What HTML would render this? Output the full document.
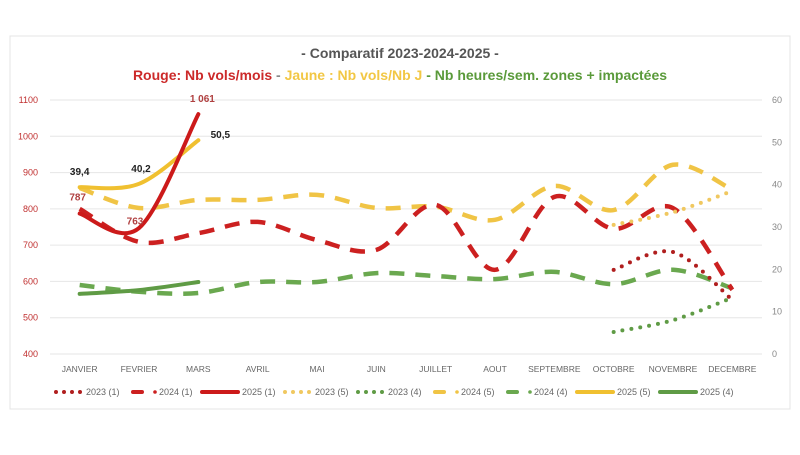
<!DOCTYPE html>
<html><head><meta charset="utf-8"><style>
body{margin:0;background:#fff;width:800px;height:450px;overflow:hidden;font-family:"Liberation Sans",sans-serif}
svg text{font-family:"Liberation Sans",sans-serif}
</style></head><body>
<svg id="chart" width="800" height="450">
<rect x="10" y="36" width="780" height="373" fill="#fff" stroke="#e4e4e4"/>
<text x="400" y="58" text-anchor="middle" font-size="14" font-weight="bold" fill="#555">- Comparatif 2023-2024-2025 -</text>
<text x="400" y="80" text-anchor="middle" font-size="14" font-weight="bold"><tspan fill="#cc2a2a">Rouge: Nb vols/mois</tspan><tspan fill="#888"> - </tspan><tspan fill="#f2c744">Jaune : Nb vols/Nb J</tspan><tspan fill="#5a9a3a"> - Nb heures/sem. zones + impactées</tspan></text>
<g id="grid"></g><g id="series"></g><g id="labels"></g><g id="legend"></g>
</svg>
<script>
const months=["JANVIER","FEVRIER","MARS","AVRIL","MAI","JUIN","JUILLET","AOUT","SEPTEMBRE","OCTOBRE","NOVEMBRE","DECEMBRE"];
const leftTicks=[400,500,600,700,800,900,1000,1100];
const rightTicks=[0,10,20,30,40,50,60];
const r2023=[null,null,null,null,null,null,null,null,null,632,681,549];
const r2024=[800,709,733,764,714,687,811,632,833,745,802,577];
const r2025=[787,747,1061];
const y2023=[null,null,null,null,null,null,null,null,null,30.5,33.5,38.5];
const y2024=[39.2,34.5,36.4,36.4,37.6,34.5,34.8,31.7,39.7,34,44.7,38.8];
const y2025=[39.4,40.2,50.5];
const g2023=[null,null,null,null,null,null,null,null,null,5.2,8,13.3];
const g2024=[16.3,14.7,14.4,17,17,19.1,18.4,17.7,19.4,16.5,19.9,15.5];
const g2025=[14.2,15.1,17];
const NS="http://www.w3.org/2000/svg";
const X0=50,X1=762,YT=100,YB=354;
const xs=i=>X0+(X1-X0)/12*(i+0.5);
const yl=v=>YB-(v-400)/700*(YB-YT);
const yr=v=>YB-v/60*(YB-YT);
function mk(tag,attrs,parent){const e=document.createElementNS(NS,tag);for(const k in attrs)e.setAttribute(k,attrs[k]);parent.appendChild(e);return e;}
const grid=document.getElementById('grid');
leftTicks.forEach(t=>{
 const l=mk('line',{x1:X0,x2:X1,y1:yl(t),y2:yl(t),stroke:'#e6e6e6'},grid);
 
 
 const tx=mk('text',{x:38,y:yl(t)+3,'text-anchor':'end','font-size':'9',fill:'#c03030'},grid);tx.textContent=t;
 
 
});
rightTicks.forEach(t=>{
 const tx=mk('text',{x:772,y:yr(t)+3,'font-size':'9',fill:'#888'},grid);tx.textContent=t;
 
 
});
months.forEach((m,i)=>{
 const tx=mk('text',{x:xs(i),y:372,'text-anchor':'middle','font-size':'8.5',fill:'#666'},grid);tx.textContent=m;
 
 
});
function pathFor(vals,sc){
 const pts=[];vals.forEach((v,i)=>{if(v!=null)pts.push([xs(i),sc(v)]);});
 let d='M'+pts[0][0]+','+pts[0][1];
 for(let i=0;i<pts.length-1;i++){
  const p0=pts[i-1]||pts[i],p1=pts[i],p2=pts[i+1],p3=pts[i+2]||p2;
  const c1=[p1[0]+(p2[0]-p0[0])/6,p1[1]+(p2[1]-p0[1])/6];
  const c2=[p2[0]-(p3[0]-p1[0])/6,p2[1]-(p3[1]-p1[1])/6];
  d+=' C'+c1+' '+c2+' '+p2;
 }
 return d;
}
const S=document.getElementById('series');
const series=[
 ['series-2024-4',g2024,yr,'#6aa84f','dash'],
 ['series-2024-5',y2024,yr,'#f0c445','dash'],
 ['series-2024-1',r2024,yl,'#cc2020','dash'],
 ['series-2023-4',g2023,yr,'#5f9b45','dot'],
 ['series-2023-5',y2023,yr,'#f0c860','dot'],
 ['series-2023-1',r2023,yl,'#b01e1e','dot'],
 ['series-2025-4',g2025,yr,'#5f9b45','solid'],
 ['series-2025-5',y2025,yr,'#f0c030','solid'],
 ['series-2025-1',r2025,yl,'#cc1a1a','solid']];
series.forEach(s=>{
 const a={d:pathFor(s[1],s[2]),fill:'none',stroke:s[3],'stroke-linecap':'round'};
 if(s[4]=='dash'){a['stroke-width']=4.5;a['stroke-dasharray']='15 11';a['stroke-linecap']='butt';}
 else if(s[4]=='dot'){a['stroke-width']=4;a['stroke-dasharray']='0 9';}
 else a['stroke-width']=4;
 const p=mk('path',a,S);
 
 
});
const L=document.getElementById('labels');
function lab(t,x,y,c){const e=mk('text',{x:x,y:y,'text-anchor':'middle','font-size':'10','font-weight':'bold',fill:c},L);e.textContent=t;
 
 }
lab('39,4',xs(0),yr(y2025[0])-12,'#222');
lab('40,2',xs(1)+2,yr(y2025[1])-12,'#222');
lab('50,5',xs(2)+22,yr(y2025[2])-2,'#222');
lab(String(r2025[0]),xs(0)-2,yl(r2025[0])-13,'#b04040');
lab('763',xs(1)-4,yl(763)+2,'#b04040');
lab('1 061',xs(2)+4,yl(r2025[2])-12,'#b04040');
const G=document.getElementById('legend');
const leg=[['2023 (1)','#b01e1e','dot'],['2024 (1)','#cc2020','dash'],['2025 (1)','#cc1a1a','solid'],['2023 (5)','#f0c860','dot'],['2023 (4)','#5f9b45','dot'],['2024 (5)','#f0c445','dash'],['2024 (4)','#6aa84f','dash'],['2025 (5)','#f0c030','solid'],['2025 (4)','#5f9b45','solid']];
let lx=56;
leg.forEach(e=>{
 const g=mk('g',{},G);
 
 
 const w=e[2]=='solid'?36:26;
 const a={x1:lx,x2:lx+w,y1:392,y2:392,stroke:e[1],'stroke-width':4,'stroke-linecap':'round'};
 if(e[2]=='dot'){a['stroke-dasharray']='0 8';}
 if(e[2]=='dash'){a['stroke-dasharray']='9 100';a.x1=lx+4;}
 mk('line',a,g);
 if(e[2]=='dash')mk('circle',{cx:lx+w,cy:392,r:1.8,fill:e[1]},g);
 const t=mk('text',{x:lx+w+4,y:395,'font-size':'9',fill:'#666'},g);t.textContent=e[0];
 lx+=w+47;
});
</script>
</body></html>
